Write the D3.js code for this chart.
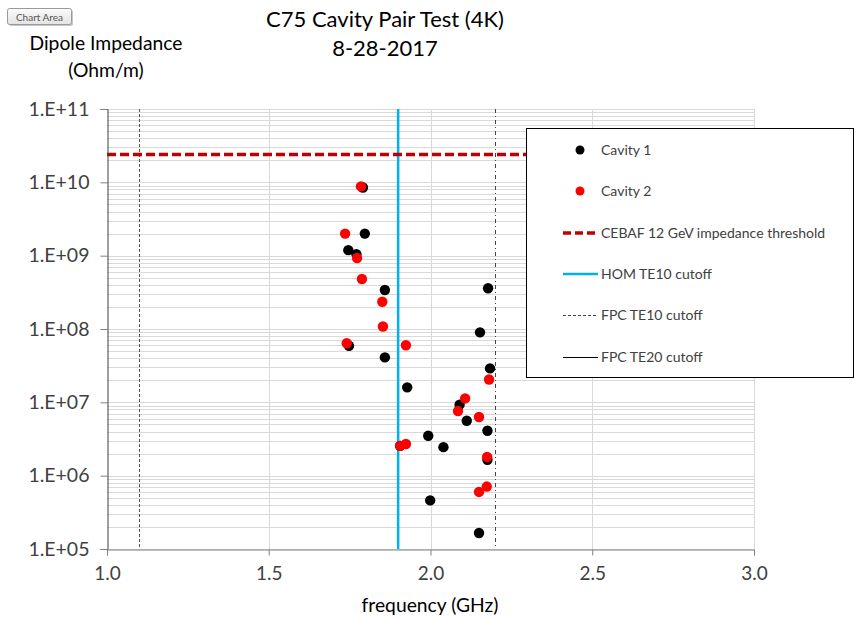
<!DOCTYPE html>
<html><head><meta charset="utf-8">
<script src="https://cdn.jsdelivr.net/npm/d3@7/dist/d3.min.js"></script>
<style>body{margin:0;background:#fff}svg{display:block}text{font-family:Lato,"Noto Sans",sans-serif}</style>
</head><body>
<svg id="c" width="855" height="618"></svg>
<script>
// Data
const cavity1Freq = [1.791,1.797,1.746,1.771,1.859,2.178,2.153,1.748,1.859,2.184,1.928,2.090,2.112,2.176,1.993,1.906,2.040,2.176,1.999,2.150];
const cavity1Imp  = [8.5e9,2.0e9,1.19e9,1.05e9,3.4e8,3.6e8,9.0e7,5.9e7,4.1e7,2.9e7,1.6e7,9.3e6,5.6e6,4.1e6,3.5e6,2.55e6,2.45e6,1.65e6,4.6e5,1.65e5];
const cavity2Freq = [1.785,1.736,1.773,1.788,1.851,1.853,1.741,1.924,2.181,2.107,2.085,2.150,1.924,1.906,2.175,2.174,2.150];
const cavity2Imp  = [8.8e9,2.0e9,9.3e8,4.8e8,2.35e8,1.08e8,6.4e7,6.0e7,2.05e7,1.13e7,7.6e6,6.3e6,2.7e6,2.55e6,1.8e6,7.1e5,6.0e5];
const thresholdImp = 2.4e10;
const homCutoff = 1.9;
const fpcTE10 = 1.1;
const fpcTE20 = 2.2;
const xTicks = [1.0,1.5,2.0,2.5,3.0];
const yTicks = [1e5,1e6,1e7,1e8,1e9,1e10,1e11];
const yTickLabels = ["1.E+05","1.E+06","1.E+07","1.E+08","1.E+09","1.E+10","1.E+11"];
const legendLabels = ["Cavity 1","Cavity 2","CEBAF 12 GeV impedance threshold","HOM TE10 cutoff","FPC TE10 cutoff","FPC TE20 cutoff"];
const titleLines = ["C75 Cavity Pair Test (4K)","8-28-2017"];
const yTitleLines = ["Dipole Impedance","(Ohm/m)"];
const xTitle = "frequency (GHz)";

const svg = d3.select("#c");
const L=107,R=754,T=109,B=549;
const x = d3.scaleLinear().domain([1,3]).range([L,R]);
const y = d3.scaleLog().domain([1e5,1e11]).range([B,T]);

// Chart Area tooltip button
const defs = svg.append("defs");
const g0 = defs.append("linearGradient").attr("id","btn").attr("x1",0).attr("y1",0).attr("x2",0).attr("y2",1);
g0.append("stop").attr("offset","0%").attr("stop-color","#fbfbfb");
g0.append("stop").attr("offset","100%").attr("stop-color","#e3e3e3");
svg.append("rect").attr("x",9).attr("y",10).attr("width",64).attr("height",16).attr("rx",2).attr("fill","#c8c8c8");
svg.append("rect").attr("x",7.5).attr("y",8.5).attr("width",64).attr("height",16).attr("rx",2).attr("fill","url(#btn)").attr("stroke","#9a9a9a");
svg.append("text").attr("x",39.5).attr("y",20.5).attr("text-anchor","middle").attr("font-size",10).attr("fill","#555").text("Chart Area");

// gridlines
const minor = [];
for (let e=5;e<11;e++) for (let m=1;m<10;m++) minor.push(m*Math.pow(10,e));
minor.push(1e11);
svg.append("g").selectAll("line").data(minor).join("line")
  .attr("x1",L).attr("x2",R).attr("y1",d=>Math.round(y(d))+0.5).attr("y2",d=>Math.round(y(d))+0.5)
  .attr("stroke","#d9d9d9").attr("stroke-width",1);
svg.append("g").selectAll("line").data(xTicks.slice(1)).join("line")
  .attr("x1",d=>Math.round(x(d))+0.5).attr("x2",d=>Math.round(x(d))+0.5).attr("y1",T).attr("y2",B)
  .attr("stroke","#d9d9d9");

// vertical reference lines
svg.append("line").attr("x1",Math.round(x(fpcTE10))+0.5).attr("x2",Math.round(x(fpcTE10))+0.5).attr("y1",T).attr("y2",B)
  .attr("stroke","#555").attr("stroke-dasharray","3,2");
svg.append("line").attr("x1",Math.round(x(fpcTE20))+0.5).attr("x2",Math.round(x(fpcTE20))+0.5).attr("y1",T).attr("y2",B)
  .attr("stroke","#444").attr("stroke-dasharray","4,3,1,3");
svg.append("line").attr("x1",x(homCutoff)).attr("x2",x(homCutoff)).attr("y1",T).attr("y2",B)
  .attr("stroke","#00b0f0").attr("stroke-width",2.5);
// threshold
svg.append("line").attr("x1",L).attr("x2",R).attr("y1",y(thresholdImp)).attr("y2",y(thresholdImp))
  .attr("stroke","#c00000").attr("stroke-width",3.5).attr("stroke-dasharray","9,4");

// axes
const yAxis = d3.axisLeft(y).tickValues(yTicks).tickFormat((d,i)=>yTickLabels[i]).tickSize(7).tickPadding(11);
const gy = svg.append("g").attr("transform",`translate(${L+0.5},0)`).call(yAxis);
gy.select(".domain").attr("stroke","#404040");
gy.selectAll(".tick line").attr("stroke","#808080");
gy.selectAll("text").attr("font-size",19.5).attr("fill","#404040").attr("font-family","Lato,sans-serif");
const xAxis = d3.axisBottom(x).tickValues(xTicks).tickFormat(d3.format(".1f")).tickSize(6).tickPadding(11);
const gx = svg.append("g").attr("transform",`translate(0,${B+0.5})`).call(xAxis);
gx.select(".domain").attr("stroke","#808080");
gx.selectAll(".tick line").attr("stroke","#808080");
gx.selectAll("text").attr("font-size",19).attr("fill","#404040").attr("font-family","Lato,sans-serif");

// points
const c1 = cavity1Freq.map((f,i)=>({f,v:cavity1Imp[i]}));
const c2 = cavity2Freq.map((f,i)=>({f,v:cavity2Imp[i]}));
svg.append("g").selectAll("circle").data(c1).join("circle")
  .attr("cx",d=>x(d.f)).attr("cy",d=>y(d.v)).attr("r",5.2).attr("fill","#000");
svg.append("g").selectAll("circle").data(c2).join("circle")
  .attr("cx",d=>x(d.f)).attr("cy",d=>y(d.v)).attr("r",5.2).attr("fill","#ff0000");

// legend
svg.append("rect").attr("x",526.5).attr("y",128.5).attr("width",327).attr("height",249).attr("fill","#fff").attr("stroke","#000");
const ly = [150,191,233,274,315,357];
const lg = svg.append("g");
lg.append("circle").attr("cx",580).attr("cy",ly[0]).attr("r",4.5).attr("fill","#000");
lg.append("circle").attr("cx",580).attr("cy",ly[1]).attr("r",4.5).attr("fill","#ff0000");
lg.append("line").attr("x1",563).attr("x2",598).attr("y1",ly[2]).attr("y2",ly[2]).attr("stroke","#c00000").attr("stroke-width",3.5).attr("stroke-dasharray","8,4");
lg.append("line").attr("x1",563).attr("x2",598).attr("y1",ly[3]).attr("y2",ly[3]).attr("stroke","#00b0f0").attr("stroke-width",2.5);
lg.append("line").attr("x1",563).attr("x2",598).attr("y1",ly[4]+0.5).attr("y2",ly[4]+0.5).attr("stroke","#444").attr("stroke-dasharray","3,2");
lg.append("line").attr("x1",563).attr("x2",598).attr("y1",ly[5]+0.5).attr("y2",ly[5]+0.5).attr("stroke","#000");
lg.selectAll("text").data(legendLabels).join("text")
  .attr("x",601).attr("y",(d,i)=>ly[i]+5).attr("font-size",14).attr("fill","#404040").text(d=>d);

// titles
svg.append("text").attr("x",385).attr("y",27).attr("text-anchor","middle").attr("font-size",22).attr("fill","#000").text(titleLines[0]);
svg.append("text").attr("x",385).attr("y",56).attr("text-anchor","middle").attr("font-size",22).attr("fill","#000").text(titleLines[1]);
svg.append("text").attr("x",106).attr("y",50).attr("text-anchor","middle").attr("font-size",19.3).attr("fill","#000").text(yTitleLines[0]);
svg.append("text").attr("x",106).attr("y",77).attr("text-anchor","middle").attr("font-size",19.3).attr("fill","#000").text(yTitleLines[1]);
svg.append("text").attr("x",430).attr("y",612).attr("text-anchor","middle").attr("font-size",19.3).attr("fill","#000").text(xTitle);
</script>
</body></html>
